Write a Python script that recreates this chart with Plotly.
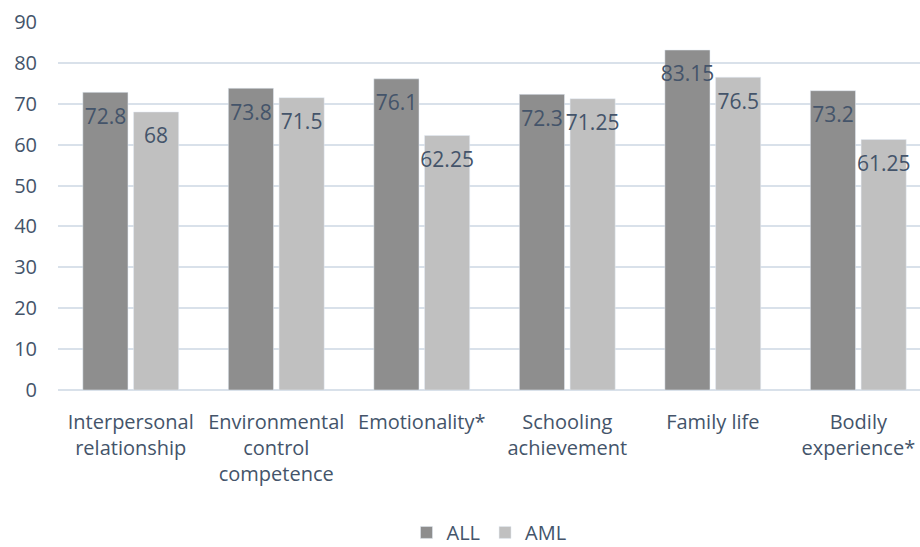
import plotly.graph_objects as go

categories = ["Interpersonal<br>relationship", "Environmental<br>control<br>competence",
              "Emotionality*", "Schooling<br>achievement", "Family life", "Bodily<br>experience*"]
all_vals = [72.8, 73.8, 76.1, 72.3, 83.15, 73.2]
aml_vals = [68, 71.5, 62.25, 71.25, 76.5, 61.25]
all_labels = ["72.8", "73.8", "76.1", "72.3", "83.15", "73.2"]
aml_labels = ["68", "71.5", "62.25", "71.25", "76.5", "61.25"]

TXT = "#44546A"
FONT = "Open Sans"
x = list(range(len(categories)))

fig = go.Figure()
fig.add_trace(go.Bar(x=x, y=all_vals, name="ALL", marker_color="#8e8e8e",
                     offsetgroup="a", hoverinfo="skip"))
fig.add_trace(go.Bar(x=x, y=aml_vals, name="AML", marker_color="#c0c0c0",
                     offsetgroup="b", hoverinfo="skip"))
# data labels just inside the top of each bar
fig.add_trace(go.Scatter(x=x, y=[v - 6.4 for v in all_vals], text=all_labels, mode="text",
                         offsetgroup="a", showlegend=False, textfont=dict(color=TXT, size=21, family=FONT)))
fig.add_trace(go.Scatter(x=x, y=[v - 6.4 for v in aml_vals], text=aml_labels, mode="text",
                         offsetgroup="b", showlegend=False, textfont=dict(color=TXT, size=21, family=FONT)))

fig.update_layout(
    width=920, height=547,
    margin=dict(l=58, r=0, t=22, b=157, autoexpand=False),
    paper_bgcolor="white", plot_bgcolor="white",
    barmode="group", bargap=0.303, bargroupgap=0.11,
    scattermode="group", scattergap=0.303,
    font=dict(family=FONT, color=TXT, size=20),
    legend=dict(orientation="h", x=0.5, xanchor="center", y=-0.387, yanchor="middle",
                font=dict(size=20, color=TXT), traceorder="normal", itemwidth=30),
    xaxis=dict(tickmode="array", tickvals=x, ticktext=categories, automargin=False,
               range=[-0.5, 5.424], showgrid=False, zeroline=False, showline=False,
               tickfont=dict(size=20, color=TXT), ticks="", ticklen=0,
               ticklabelstandoff=18),
    yaxis=dict(range=[0, 90], dtick=10, tick0=0, showgrid=True, gridcolor="#D9E1EA",
               gridwidth=1.5, zeroline=True, zerolinecolor="#D9E1EA", zerolinewidth=1.5,
               tickfont=dict(size=20, color=TXT), ticks="", fixedrange=True,
               automargin=False, ticklabelstandoff=20),
)

fig.write_html("out.html")
